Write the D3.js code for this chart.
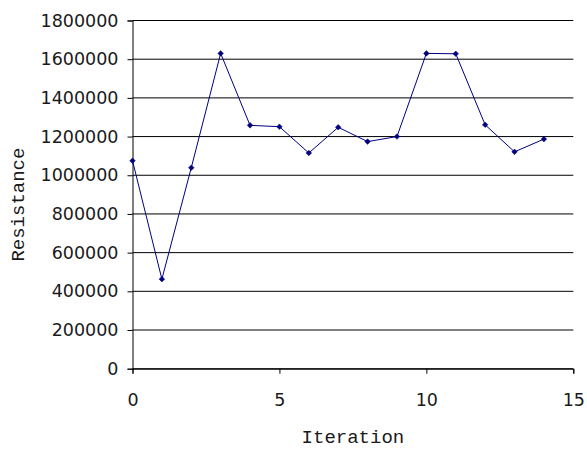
<!DOCTYPE html>
<html>
<head>
<meta charset="utf-8">
<script src="https://cdn.jsdelivr.net/npm/d3@7"></script>
<style>
  html, body { margin: 0; padding: 0; background: #fff; }
  svg { display: block; }
</style>
</head>
<body>
<svg id="chart" width="587" height="450"></svg>
<script>
// Resistance measured at each iteration
const iterations = [0, 1, 2, 3, 4, 5, 6, 7, 8, 9, 10, 11, 12, 13, 14];
const resistance = [1075000, 463000, 1039000, 1630000, 1258000, 1251000, 1115000, 1248000,
                    1174000, 1200000, 1630000, 1628000, 1261000, 1121000, 1187000];
const xTicks = [0, 5, 10, 15];
const yTicks = [0, 200000, 400000, 600000, 800000, 1000000, 1200000, 1400000, 1600000, 1800000];

(function () {
  const svg = d3.select("#chart");
  const plotLeft = 132.5, plotRight = 573.3, plotTop = 20.5, plotBottom = 368.7;

  const x = d3.scaleLinear().domain([0, 15]).range([plotLeft, plotRight]);
  const y = d3.scaleLinear().domain([0, 1800000]).range([plotBottom, plotTop]);

  const tickFont = "'DejaVu Sans', Verdana, sans-serif";
  const titleFont = "'Liberation Mono', 'Courier New', monospace";
  const ink = "#1a1a1a";

  // horizontal gridlines
  svg.append("g")
    .selectAll("line")
    .data(yTicks)
    .join("line")
    .attr("x1", plotLeft).attr("x2", plotRight)
    .attr("y1", d => y(d)).attr("y2", d => y(d))
    .attr("stroke", "#000").attr("stroke-width", 1);

  // y axis
  const yAxis = svg.append("g")
    .attr("transform", `translate(${plotLeft},0)`)
    .call(d3.axisLeft(y).tickValues(yTicks).tickSize(5).tickPadding(9).tickFormat(d3.format("d")));
  yAxis.select(".domain").attr("stroke", "#000");
  yAxis.selectAll("line").attr("stroke", "#000");
  yAxis.selectAll("text")
    .attr("font-family", tickFont).attr("font-size", 17.5).attr("fill", ink);

  // x axis
  const xAxis = svg.append("g")
    .attr("transform", `translate(0,${plotBottom})`)
    .call(d3.axisBottom(x).tickValues(xTicks).tickSize(5).tickPadding(20).tickFormat(d3.format("d")));
  xAxis.select(".domain").attr("stroke", "#000");
  xAxis.selectAll("line").attr("stroke", "#000");
  xAxis.selectAll("text")
    .attr("font-family", tickFont).attr("font-size", 17.5).attr("fill", ink);

  // axis titles
  svg.append("text")
    .attr("x", (plotLeft + plotRight) / 2).attr("y", 443)
    .attr("text-anchor", "middle")
    .attr("font-family", titleFont).attr("font-size", 19).attr("fill", ink)
    .text("Iteration");

  svg.append("text")
    .attr("transform", `translate(24,${(plotTop + plotBottom) / 2 + 10}) rotate(-90)`)
    .attr("text-anchor", "middle")
    .attr("font-family", titleFont).attr("font-size", 19).attr("fill", ink)
    .text("Resistance");

  // series line
  const pts = iterations.map((d, i) => [d, resistance[i]]);
  svg.append("path")
    .datum(pts)
    .attr("fill", "none")
    .attr("stroke", "#000080")
    .attr("stroke-width", 1)
    .attr("d", d3.line().x(d => x(d[0])).y(d => y(d[1])));

  // diamond markers
  svg.append("g")
    .selectAll("path")
    .data(pts)
    .join("path")
    .attr("transform", d => `translate(${x(d[0])},${y(d[1])})`)
    .attr("d", "M0,-2.8L2.8,0L0,2.8L-2.8,0Z")
    .attr("fill", "#000080")
    .attr("stroke", "#000080")
    .attr("stroke-width", 0.5);
})();
</script>
</body>
</html>
